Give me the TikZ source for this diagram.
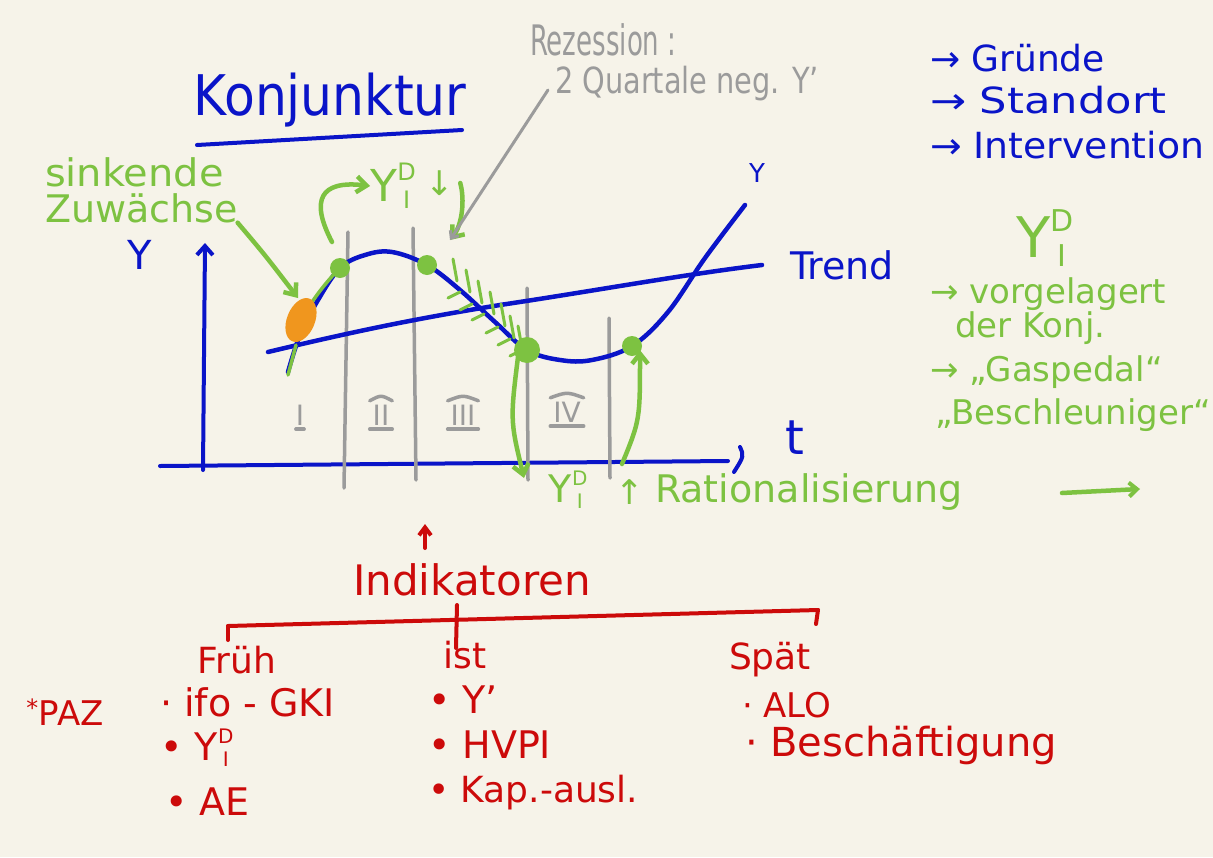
\documentclass[tikz,border=0pt]{standalone}
\usepackage{fontspec}
\usepackage{graphicx}
\setmainfont{DejaVu Sans}
\usetikzlibrary{arrows.meta}
\definecolor{bg}{HTML}{F6F3E9}
\definecolor{pblue}{HTML}{0A14C8}
\definecolor{pgreen}{HTML}{7DC241}
\definecolor{pgray}{HTML}{9B9B9B}
\definecolor{pred}{HTML}{CC0A0A}
\definecolor{porange}{HTML}{F0961E}
\newcommand\hwtext[3]{\scalebox{#1}[1]{\fontsize{#2}{#2}\selectfont #3}}
% Y with D above I (sizes: big, small)
\newcommand\YID[2]{{\fontsize{#1}{#1}\selectfont Y}\kern0.5pt{\fontsize{#2}{#2}\selectfont\rlap{\raisebox{0.85em}{D}}\raisebox{-0.3em}{\makebox[0.77em][c]{I}}}}
\begin{document}
\begin{tikzpicture}[x=1pt,y=-1pt,
  txt/.style={inner sep=0pt, outer sep=0pt},
  bluetxt/.style={txt, text=pblue},
  greentxt/.style={txt, text=pgreen},
  graytxt/.style={txt, text=pgray},
  redtxt/.style={txt, text=pred},
  bluepen/.style={draw=pblue, line width=4.5pt, line cap=round, line join=round},
  greenpen/.style={draw=pgreen, line width=4.5pt, line cap=round, line join=round},
  graypen/.style={draw=pgray, line width=3.5pt, line cap=round},
  redpen/.style={draw=pred, line width=4pt, line cap=round},
  garrow/.style={greenpen, -{Straight Barb[length=10pt, width=16pt, line width=4.5pt]}},
  rarrow/.style={redpen, -{Straight Barb[length=8pt, width=12pt, line width=4pt]}},
  gdot/.style={circle, fill=pgreen, minimum width=20pt, inner sep=0pt},
  romanbar/.style={draw=pgray, line width=3.5pt, line cap=round},
]
\useasboundingbox (0,0) rectangle (1213,857);
\fill[bg] (0,0) rectangle (1213,857);

% ---------- title ----------
\node[bluetxt] (title) at (330,100) {\hwtext{0.9}{56}{Konjunktur}};
\draw[bluepen, line width=4pt] (197,145) -- (462,130);

% ---------- axes ----------
\coordinate (yb) at (203,470);
\coordinate (yt) at (205,243);
\draw[bluepen, line width=4pt, -{Straight Barb[length=9pt, width=16pt, line width=4pt]}] (yb) -- (yt);
\coordinate (xl) at (160,466);
\coordinate (xr) at (728,461);
\draw[bluepen, line width=4pt] (xl) -- (xr);
\coordinate (c1) at (740,447);
\coordinate (c2) at (734,472);
\draw[bluepen, line width=4pt] (c1) .. controls (744,456) .. (c2);
\node[bluetxt] (ylab) at (140,255) {\hwtext{1}{40}{Y}};
\node[bluetxt] (tlab) at (795,438) {\hwtext{1}{48}{t}};

% ---------- gray phase lines ----------
\draw[graypen] (348,232) -- (344,488);
\draw[graypen] (413,228) -- (416,480);
\draw[graypen] (527,288) -- (528,480);
\draw[graypen] (609,318) -- (610,478);

% ---------- trend ----------
\draw[bluepen] (268,352) .. controls (360,330) and (420,318) .. (500,305)
   .. controls (600,290) and (680,275) .. (762,265);
\node[bluetxt, anchor=west] (trend) at (790,265) {\hwtext{1}{38}{Trend}};

% ---------- cycle ----------
\draw[bluepen] plot[smooth, tension=0.6] coordinates {
 (288,372) (300,335) (318,300) (340,268) (365,255) (392,252) (427,265)
 (460,290) (495,322) (527,350) (560,360) (592,360) (632,346) (668,312)
 (705,258) (745,205)};
\node[bluetxt] (ytop) at (757,173) {\hwtext{1}{26}{Y}};

% green highlight + orange
\draw[greenpen, line width=3.5pt] (288,375) -- (296,345);
\draw[greenpen, line width=3.5pt] (310,305) .. controls (320,290) and (330,278) .. (340,268);
\fill[porange] (301,320) ellipse [x radius=14pt, y radius=23pt, rotate=-22];

% recession hatch
\foreach \a/\b in {455/273,468/284,480/295,492/306,503/318,512/330,520/340}{
  \draw[greenpen, line width=3pt] (\a-2,\b-14) -- (\a+2,\b+8);
}
\foreach \a/\b in {448/298,460/310,472/320,486/333,498/345,510/356}{
  \draw[greenpen, line width=3pt] (\a,\b) -- (\a+12,\b-6);
}

% dots
\node[gdot] (d1) at (340,268) {};
\node[gdot] (d2) at (427,265) {};
\node[gdot, minimum height=26pt] (d3) at (527,350) {};
\node[gdot] (d4) at (632,346) {};

% roman numerals
\node[graytxt] (r1) at (300,415) {\hwtext{1}{28}{I}};
\node[graytxt] (r2) at (381,415) {\hwtext{1}{28}{II}};
\node[graytxt] (r3) at (463,415) {\hwtext{1}{28}{III}};
\node[graytxt] (r4) at (567,412) {\hwtext{1}{28}{IV}};
\draw[romanbar] ([yshift=-4pt]r1.south west) -- ([yshift=-4pt]r1.south east);
\foreach \r in {r2,r3,r4}{
  \draw[romanbar] ([yshift=-4pt,xshift=-3pt]\r.south west) -- ([yshift=-4pt,xshift=3pt]\r.south east);
  \draw[romanbar] ([yshift=4pt,xshift=-3pt]\r.north west) .. controls ([yshift=10pt]\r.north) .. ([yshift=4pt,xshift=3pt]\r.north east);
}

% ---------- green labels & arrows ----------
\node[greentxt, anchor=west] (sink1) at (45,172) {\hwtext{1.05}{38}{sinkende}};
\node[greentxt, anchor=west] (sink2) at (45,208) {\hwtext{1.0}{38}{Zuwächse}};
\draw[garrow] (sink2.south east) .. controls (265,255) .. (298,298);

\node[greentxt] (yid1) at (393,186) {\YID{44}{24}};
\node[greentxt] (dn1) at (440,183) {\hwtext{1}{34}{↓}};
\coordinate (a1s) at (332,242);
\draw[garrow] (a1s) .. controls (310,200) and (320,180) .. (yid1.west);
\coordinate (a2e) at (450,240);
\draw[garrow] (dn1.east) ++(6,0) .. controls (465,200) and (462,225) .. (a2e);

\node[greentxt] (yid2) at (568,490) {\YID{38}{20}};
\node[greentxt] (up2) at (630,492) {\hwtext{1}{34}{↑}};
\node[greentxt, anchor=west] (ratio) at (655,492) {\hwtext{1}{38}{Rationalisierung}};
\coordinate (ra1) at (1062,493);
\coordinate (ra2) at (1140,489);
\draw[garrow, -{Straight Barb[length=8pt, width=14pt, line width=4pt]}] (ra1) -- (ra2);

\coordinate (a3e) at (524,478);
\draw[garrow] ([xshift=-8pt,yshift=14pt]d3.south) .. controls (510,420) .. (a3e);
\coordinate (a4s) at (622,464);
\draw[garrow] (a4s) .. controls (640,420) .. ([xshift=8pt,yshift=6pt]d4.south);

% right green block
\node[greentxt] (yid3) at (1045,238) {\YID{56}{30}};
\node[greentxt, anchor=west] (vor1) at (930,294) {\hwtext{1}{34}{→ vorgelagert}};
\node[greentxt, anchor=west] (vor2) at (955,328) {\hwtext{1}{34}{der Konj.}};
\node[greentxt, anchor=west] (gas1) at (930,372) {\hwtext{1}{34}{→ „Gaspedal“}};
\node[greentxt, anchor=west] (gas2) at (935,415) {\hwtext{1}{34}{„Beschleuniger“}};

% ---------- gray recession ----------
\node[graytxt, anchor=west] (rez1) at (530,40) {\hwtext{0.62}{42}{Rezession :}};
\node[graytxt, anchor=west] (rez2) at (555,84) {\hwtext{0.8}{36}{2 Quartale neg. Y'}};
\coordinate (g1) at (548,90);
\draw[graypen, line width=3pt, -{Straight Barb[length=6pt, width=10pt]}] (g1) -- (a2e);

% blue reasons
\node[bluetxt, anchor=west] (gr1) at (930,58) {\hwtext{1.0}{36}{→ Gründe}};
\node[bluetxt, anchor=west] (gr2) at (930,100) {\hwtext{1.2}{36}{→ Standort}};
\node[bluetxt, anchor=west] (gr3) at (930,145) {\hwtext{1.05}{36}{→ Intervention}};

% ---------- red indicators ----------
\coordinate (iu) at (425,548);
\coordinate (io) at (425,524);
\draw[rarrow] (iu) -- (io);
\node[redtxt] (ind) at (472,580) {\hwtext{1}{42}{Indikatoren}};
\coordinate (bl) at (228,626);
\coordinate (br) at (818,610);
\draw[redpen] (bl) -- (br);
\draw[redpen] (bl) -- ++(0,14);
\draw[redpen] (br) -- ++(-2,14);
\draw[redpen] (457,605) -- (456,648);

\node[redtxt] (frueh) at (237,660) {\hwtext{1}{36}{Früh}};
\node[redtxt, anchor=west] (f1) at (160,702) {\hwtext{1}{38}{· ifo - GKI}};
\node[redtxt, anchor=west] (f2) at (160,748) {\hwtext{1}{38}{• \YID{38}{20}}};
\node[redtxt, anchor=west] (f3) at (165,802) {\hwtext{1}{38}{• AE}};
\node[redtxt] (paz) at (65,712) {\hwtext{1}{34}{\textsuperscript{*}PAZ}};

\node[redtxt] (ist) at (465,655) {\hwtext{1}{36}{ist}};
\node[redtxt, anchor=west] (i1) at (428,700) {\hwtext{1}{38}{• Y'}};
\node[redtxt, anchor=west] (i2) at (428,745) {\hwtext{1}{38}{• HVPI}};
\node[redtxt, anchor=west] (i3) at (428,793) {\hwtext{1}{36}{• Kap.-ausl.}};

\node[redtxt] (spaet) at (770,660) {\hwtext{1}{36}{Spät}};
\node[redtxt, anchor=west] (s1) at (742,705) {\hwtext{1}{34}{· ALO}};
\node[redtxt, anchor=west] (s2) at (745,745) {\hwtext{1}{40}{· Beschäftigung}};
\end{tikzpicture}
\end{document}
